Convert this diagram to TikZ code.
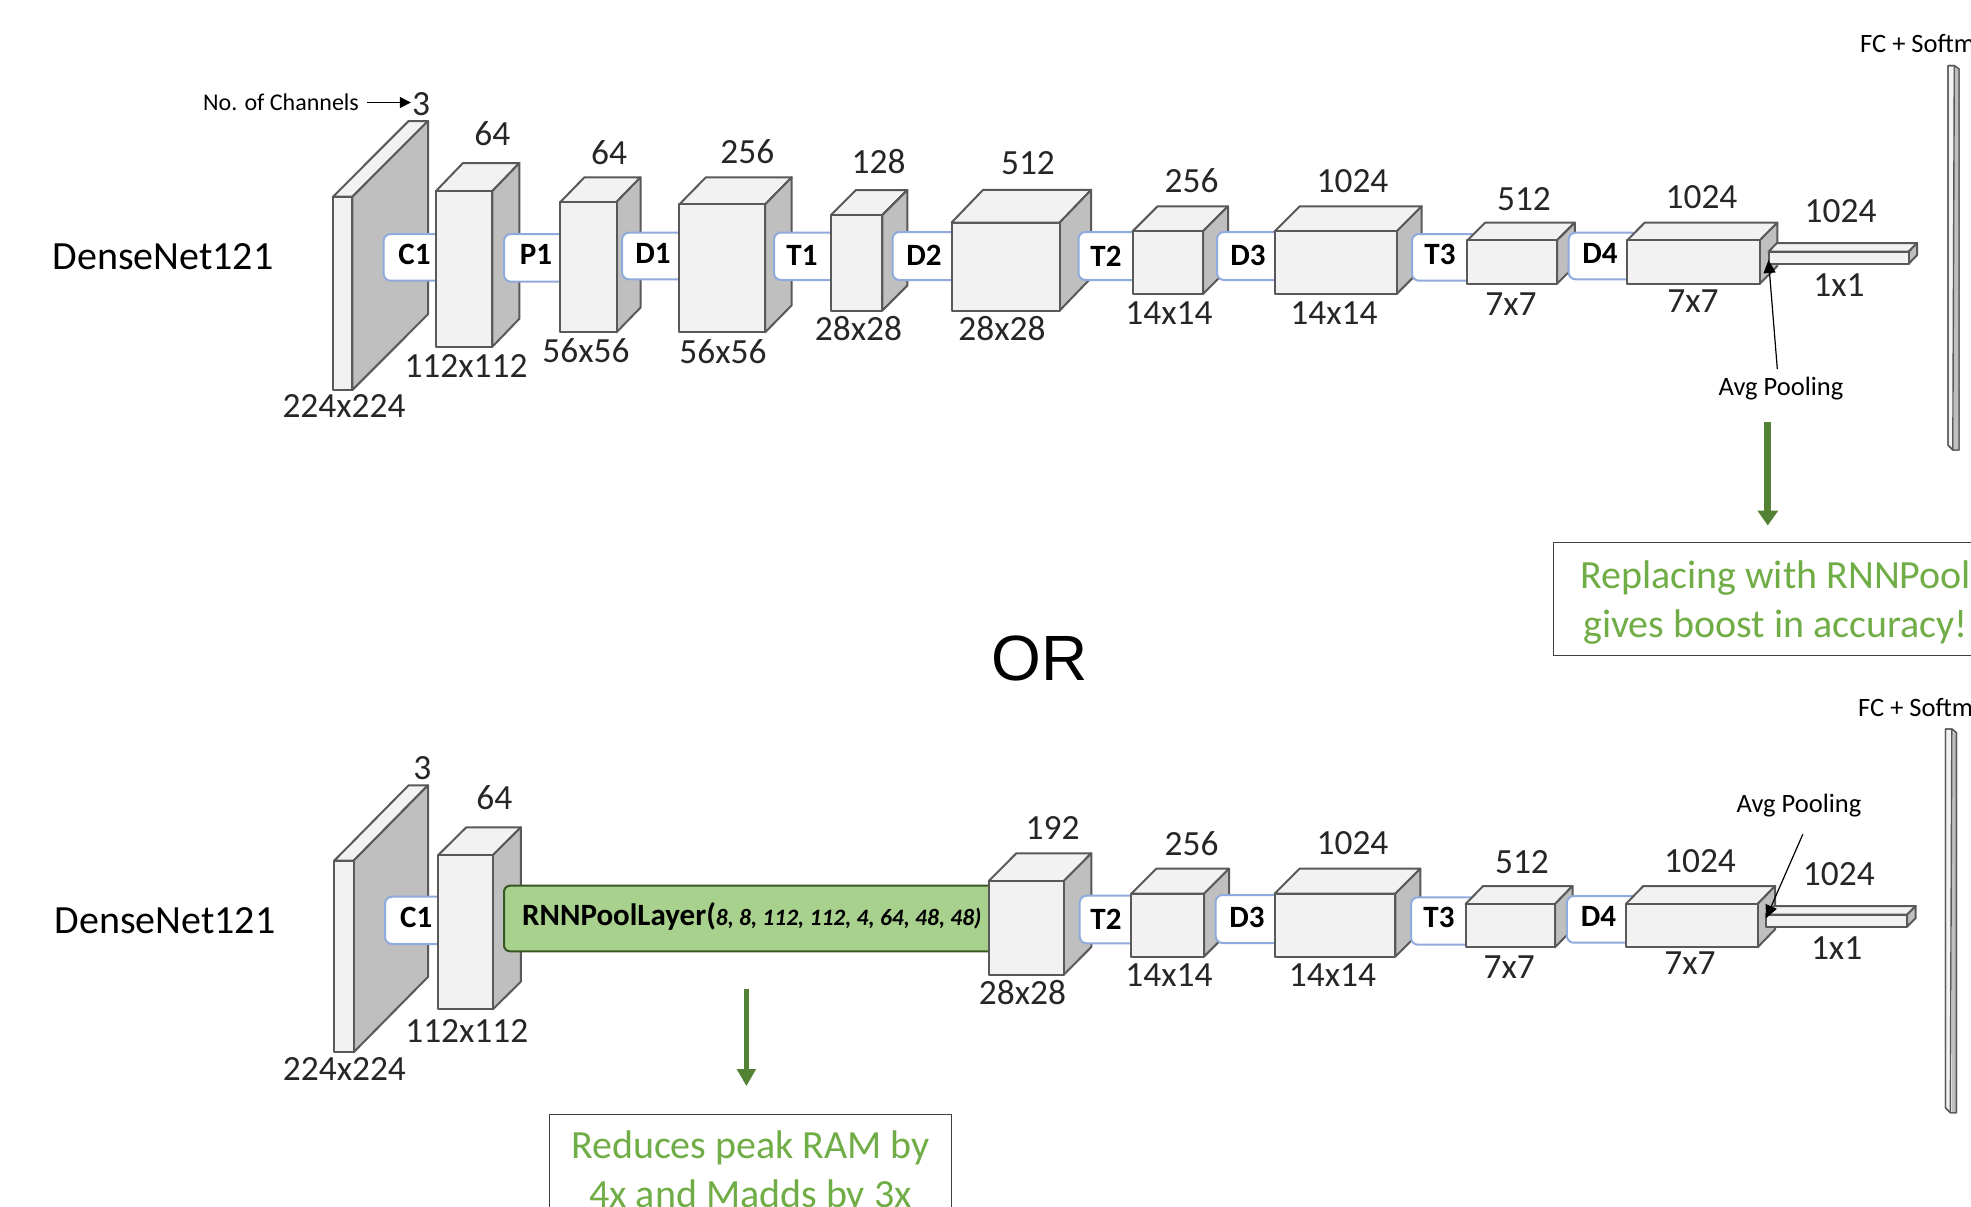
\documentclass[tikz,border=0pt]{standalone}
\usepackage{fontspec}
\setmainfont{Carlito}
\newfontfamily\orfont{Liberation Sans}
\usetikzlibrary{arrows.meta}
\definecolor{cubeline}{HTML}{595959}
\definecolor{cubefront}{HTML}{F2F2F2}
\definecolor{cubeside}{HTML}{BFBFBF}
\definecolor{connblue}{HTML}{8FAADC}
\definecolor{darkgreen}{HTML}{548235}
\definecolor{rnnfill}{HTML}{A9D18E}
\definecolor{rnnline}{HTML}{385723}
\definecolor{notegreen}{HTML}{70AD47}
\definecolor{dimtext}{HTML}{262626}
\tikzset{
  cubeface/.style={draw=cubeline,line width=2pt,line join=round},
  connbox/.style={draw=connblue,fill=white,line width=2pt,rounded corners=7pt},
  conntext/.style={inner sep=0pt,font=\fontsize{31}{36}\selectfont\bfseries,text=black},
  dimlabel/.style={inner sep=0pt,font=\fontsize{35.4}{40}\selectfont,text=dimtext},
  smalllabel/.style={inner sep=0pt,font=\fontsize{24}{28}\selectfont,text=black},
  poollabel/.style={inner sep=0pt,font=\fontsize{26.5}{30}\selectfont,text=black},
  netlabel/.style={inner sep=0pt,font=\fontsize{40}{46}\selectfont,text=black},
  notebox/.style={draw=black!75,line width=1pt,fill=white,inner sep=0pt,align=center,
    text=notegreen,font=\fontsize{40}{49}\selectfont},
  thinarrow/.style={draw=black,line width=1.2pt,-{Triangle[width=12pt,length=13pt]}},
  greenarrow/.style={draw=darkgreen,-{Triangle[width=20pt,length=15pt]}},
}
% name, x1, y1, x2, y2, dx, dy
\newcommand\cubeblock[7]{%
  \fill[cubefront] (#2,#3) rectangle (#4,#5);
  \draw[cubeface,fill=cubefront] (#2,#3) -- ++(#6,-#7) -- ++(#4-#2,0) -- (#4,#3) -- cycle;
  \draw[cubeface,fill=cubeside] (#4,#3) -- ++(#6,-#7) -- ++(0,#5-#3) -- (#4,#5) -- cycle;
  \draw[cubeface,fill=cubefront] (#2,#3) rectangle (#4,#5);
  \coordinate (#1) at ({(#2+#4)/2},{(#3+#5)/2});
}
% x1, y1, x2, y2
\newcommand\connblock[4]{\draw[connbox] (#1,#2) rectangle (#3+12,#4);}
\newcommand\finalbar[9]{%
  \draw[cubeface,line width=1.4pt,fill=cubefront] (#1,#4) -- (#2,#4) -- (#3,#5) -- (#3,#7) -- (#8,#7) -- (#1,#6) -- cycle;
  \fill[cubeside] (#2,#5) rectangle (#3,#7);
  \draw[cubeface,line width=1.4pt] (#1,#4) -- (#2,#4) -- (#3,#5) -- (#3,#7) -- (#8,#7) -- (#1,#6) -- cycle;
  \draw[cubeface,line width=1.4pt] (#2,#4) -- (#8,#7);
  \coordinate (#9) at (#2,{(#4+#7)/2});
}
\begin{document}
\begin{tikzpicture}[x=1pt,y=-1pt]
\useasboundingbox (0,0) rectangle (1971,1207);
\fill[white] (0,0) rectangle (1971,1207);

% ---------- upper network ----------
\cubeblock{ua}{333}{196.7}{352.4}{390}{75.6}{75.7}
\connblock{383.6}{234}{437}{280.7}
\cubeblock{ub}{436}{191}{492.4}{346.7}{27}{28}
\connblock{504}{234}{560.4}{281.7}
\cubeblock{uc}{560.4}{202}{616.5}{332.3}{24}{24.7}
\connblock{622}{232.7}{679.4}{279.3}
\cubeblock{ud}{679.4}{204.3}{765.2}{332.3}{26.5}{27}
\connblock{774}{232.5}{831}{280}
\cubeblock{ue}{831}{215}{882.4}{310.5}{25}{25}
\connblock{892.5}{232}{951.6}{280}
\cubeblock{uf}{951.6}{222.5}{1059.7}{310.5}{31.5}{32.7}
\connblock{1078.5}{232}{1132.6}{280}
\cubeblock{ug}{1132.6}{231.3}{1203}{294}{25}{25}
\connblock{1217}{232}{1274.6}{280}
\cubeblock{uh}{1274.6}{231.3}{1396.6}{294}{25}{25}
\connblock{1412}{234}{1467.4}{280.7}
\cubeblock{ui}{1467.4}{240.3}{1557}{283.7}{17.8}{17.7}
\connblock{1568.6}{232.7}{1627.2}{279.3}
\cubeblock{uj}{1627.2}{240.3}{1759.8}{283.7}{17.5}{17.7}
\cubeblock{uk}{1768.5}{251.7}{1908.7}{263.7}{8.4}{8.7}
\finalbar{1948}{1954.3}{1959}{65.7}{69}{445}{450}{1952.8}{ubar}

\node[conntext] (uC1) at (414.5,254.3) {C1};
\node[conntext] (uP1) at (536,254) {P1};
\node[conntext] (uD1) at (653,253) {D1};
\node[conntext] (uT1) at (802,255) {T1};
\node[conntext] (uD2) at (924,255) {D2};
\node[conntext] (uT2) at (1106,256) {T2};
\node[conntext] (uD3) at (1248,255) {D3};
\node[conntext] (uT3) at (1440,254) {T3};
\node[conntext] (uD4) at (1600,253) {D4};

\node[netlabel] (unet) at (163,257) {DenseNet121};
\node[smalllabel] (chan) at (281,102.5) {No. of Channels};
\node[dimlabel] (uch0) at (421,104) {3};
\draw[draw=black,line width=1.4pt,-{Triangle[width=11pt,length=11pt]},shorten <=8pt,shorten >=1pt] (chan.east) -- (chan.east -| uch0.west);
\node[dimlabel] (uch1) at (492.4,134) {64};
\node[dimlabel] (uch2) at (609,153) {64};
\node[dimlabel] (uch3) at (747.4,152) {256};
\node[dimlabel] (uch4) at (878.6,162) {128};
\node[dimlabel] (uch5) at (1028,163.5) {512};
\node[dimlabel] (uch6) at (1191.6,181) {256};
\node[dimlabel] (uch7) at (1352.5,181) {1024};
\node[dimlabel] (uch8) at (1524,199) {512};
\node[dimlabel] (uch9) at (1701.5,197) {1024};
\node[dimlabel] (uch10) at (1840.6,211) {1024};
\node[dimlabel] (usz0) at (344,406) {224x224};
\node[dimlabel] (usz1) at (466,366) {112x112};
\node[dimlabel] (usz2) at (586,350.7) {56x56};
\node[dimlabel] (usz3) at (723,351.7) {56x56};
\node[dimlabel] (usz4) at (858.5,329) {28x28};
\node[dimlabel] (usz5) at (1002,329) {28x28};
\node[dimlabel] (usz6) at (1169,313) {14x14};
\node[dimlabel] (usz7) at (1334,313) {14x14};
\node[dimlabel] (usz8) at (1511,304) {7x7};
\node[dimlabel] (usz9) at (1693,301) {7x7};
\node[dimlabel] (usz10) at (1839,285) {1x1};
\node[poollabel] (upool) at (1781,388.7) {Avg Pooling};
\node[poollabel,anchor=west] (ufc) at (1860,44) {FC + Softm};
\coordinate (upoolfrom) at (1777.3,369);
\coordinate (upooltip) at (1768.5,260);
\draw[thinarrow] (upoolfrom) -- (upooltip);

\node[notebox,minimum width=444pt,minimum height=113pt] (unote) at (1775.6,598.5) {\rule{0pt}{36pt}Replacing with RNNPool\\gives boost in accuracy!};
\coordinate (ugreen) at (1767.8,421.7);
\draw[greenarrow,line width=7pt,shorten >=16pt] (ugreen) -- (ugreen |- unote.north);

\node[inner sep=0pt,font=\orfont\fontsize{64}{70}\selectfont] (orword) at (1039.5,658.7) {OR};

% ---------- lower network ----------
\cubeblock{la}{334.2}{860.7}{353.6}{1052.3}{74.4}{75.4}
\connblock{385}{896.7}{438.3}{944}
\cubeblock{lb}{438.3}{855}{492.9}{1009.3}{28}{27.7}
\draw[draw=rnnline,fill=rnnfill,line width=2pt,rounded corners=6pt] (504,885.7) rectangle (1005,951.3);
\cubeblock{lc}{988.8}{881}{1063.8}{974.7}{27.5}{27.7}
\connblock{1079.6}{895.7}{1131.3}{943.3}
\cubeblock{lg}{1131.3}{893.7}{1204}{956.6}{25}{25}
\connblock{1215.6}{895}{1274.6}{943}
\cubeblock{lh}{1274.6}{893.7}{1395.3}{956.6}{25}{25}
\connblock{1411}{897.3}{1465.6}{944.7}
\cubeblock{li}{1465.6}{904}{1555}{947.3}{17.5}{18}
\connblock{1566.8}{896}{1625.8}{942.7}
\cubeblock{lj}{1625.8}{904}{1757.6}{947.3}{17.5}{18}
\cubeblock{lk}{1765.6}{914.7}{1907}{926.7}{8.7}{8.7}
\finalbar{1945.5}{1951.8}{1956.4}{729}{732.7}{1108}{1112.7}{1950.3}{lbar}

\node[conntext] (lC1) at (416.3,917.3) {C1};
\node[conntext] (lT2) at (1106,919) {T2};
\node[conntext] (lD3) at (1247,917.6) {D3};
\node[conntext] (lT3) at (1439,917.3) {T3};
\node[conntext] (lD4) at (1598.5,916.7) {D4};

\node[inner sep=0pt,anchor=west,font=\fontsize{31}{34}\selectfont\bfseries] (rnn) at (522,916.7)
  {RNNPoolLayer(\fontsize{23.5}{28}\selectfont\itshape 8, 8, 112, 112, 4, 64, 48, 48)};

\node[netlabel] (lnet) at (165,920.5) {DenseNet121};
\node[dimlabel] (lch0) at (422.4,768.3) {3};
\node[dimlabel] (lch1) at (494.4,797.7) {64};
\node[dimlabel] (lch2) at (1052.6,828.3) {192};
\node[dimlabel] (lch3) at (1191.6,843.5) {256};
\node[dimlabel] (lch4) at (1352.5,843.5) {1024};
\node[dimlabel] (lch5) at (1522,862.3) {512};
\node[dimlabel] (lch6) at (1700,860.7) {1024};
\node[dimlabel] (lch7) at (1838.8,874) {1024};
\node[dimlabel] (lsz0) at (344.4,1069) {224x224};
\node[dimlabel] (lsz1) at (466.8,1030.7) {112x112};
\node[dimlabel] (lsz2) at (1022.4,992.7) {28x28};
\node[dimlabel] (lsz3) at (1169,975.5) {14x14};
\node[dimlabel] (lsz4) at (1332.5,975.5) {14x14};
\node[dimlabel] (lsz5) at (1509.2,966.7) {7x7};
\node[dimlabel] (lsz6) at (1690,963.3) {7x7};
\node[dimlabel] (lsz7) at (1836.6,948.3) {1x1};
\node[poollabel] (lpool) at (1799,805.5) {Avg Pooling};
\node[poollabel,anchor=west] (lfc) at (1858,707.3) {FC + Softm};
\coordinate (lpoolfrom) at (1802.8,834.3);
\coordinate (lpooltip) at (1766,918.3);
\draw[thinarrow] (lpoolfrom) -- (lpooltip);

\node[notebox,minimum width=402pt,minimum height=115pt] (lnote) at (750.5,1172.2) {Reduces peak RAM by\\4x and Madds by 3x};
\coordinate (lgreen) at (746.4,989.3);
\draw[draw=darkgreen,line width=5.5pt,-{Triangle[width=18pt,length=17pt]},shorten >=28pt] (lgreen) -- (lgreen |- lnote.north);
\end{tikzpicture}
\end{document}
